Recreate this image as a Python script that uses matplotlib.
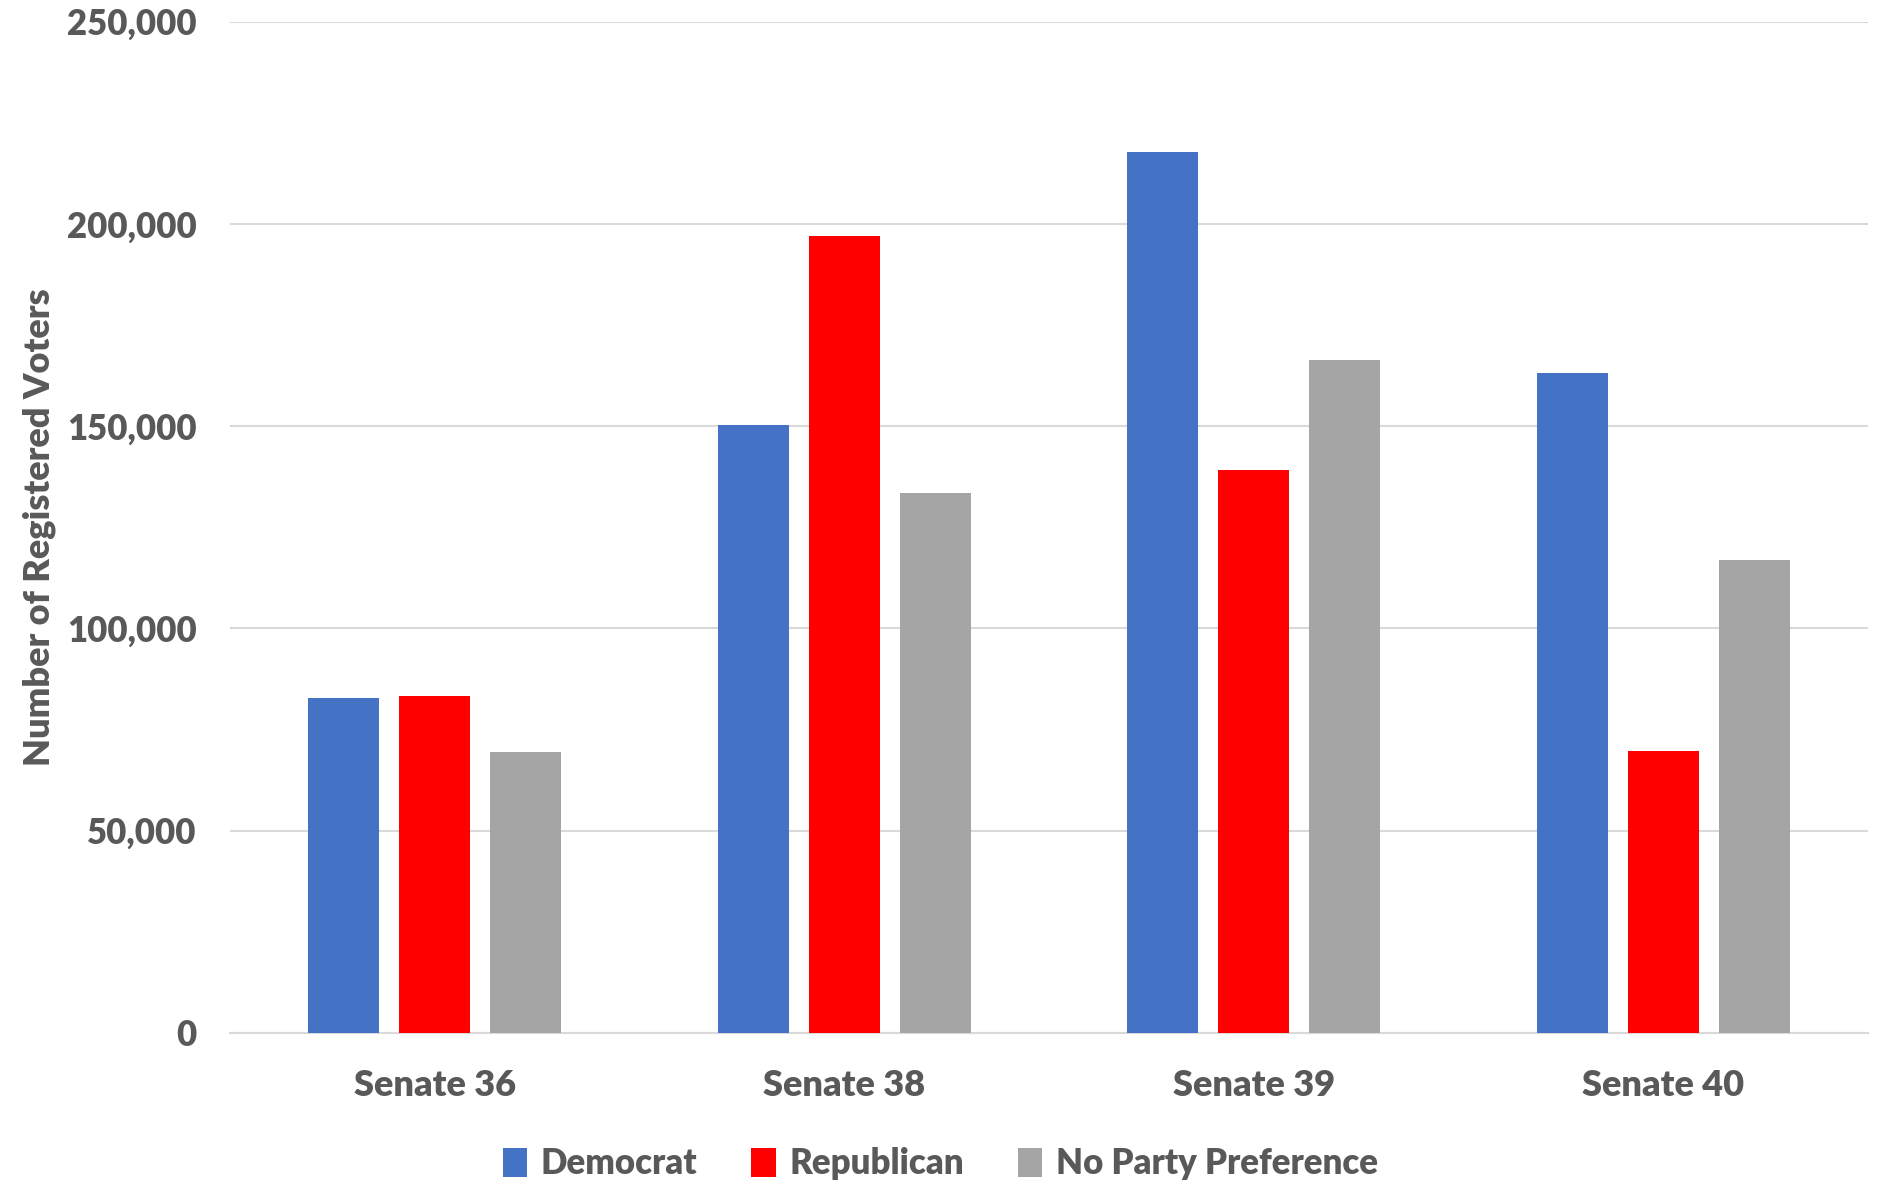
import matplotlib.pyplot as plt
import numpy as np
from matplotlib.ticker import FuncFormatter

districts = ["Senate 36", "Senate 38", "Senate 39", "Senate 40"]
parties = ["Democrat", "Republican", "No Party Preference"]
democrat = [82700, 150400, 217700, 163100]
republican = [83300, 196900, 139100, 69700]
no_party = [69400, 133500, 166400, 116800]
colors = ["#4472C4", "#FF0000", "#A5A5A5"]

txt = "#595959"
plt.rcParams['font.family'] = ['Lato', 'DejaVu Sans']
wt = 'heavy'

fig = plt.figure(figsize=(18.81, 11.85), dpi=100)
ax = fig.add_axes([230 / 1881, 1 - 1033 / 1185, (1868 - 230) / 1881, (1033 - 21.6) / 1185])

x = np.arange(len(districts))
w = 0.173
step = 0.222
for i, (vals, name) in enumerate(zip([democrat, republican, no_party], parties)):
    ax.bar(x + (i - 1) * step, vals, w, color=colors[i], label=name, zorder=3)

ax.set_xlim(-0.5, 3.5)
ax.set_ylim(0, 250000)
ax.set_yticks(np.arange(0, 250001, 50000))
ax.yaxis.set_major_formatter(FuncFormatter(lambda v, p: f"{int(v):,}"))
ax.grid(axis='y', color="#D9D9D9", lw=1.5, zorder=0)
for s in ["top", "right", "left"]:
    ax.spines[s].set_visible(False)
ax.spines["bottom"].set_color("#D9D9D9")
ax.spines["bottom"].set_linewidth(1.5)
ax.tick_params(axis='both', length=0, labelcolor=txt)
ax.tick_params(axis='y', pad=24, labelsize=25)
ax.tick_params(axis='x', pad=26, labelsize=26)
ax.set_xticks(x)
ax.set_xticklabels(districts)
for lab in ax.get_xticklabels() + ax.get_yticklabels():
    lab.set_fontweight(wt)
ax.set_ylabel("Number of Registered Voters", fontsize=26, color=txt, fontweight=wt, labelpad=8)

leg = fig.legend(loc="center", bbox_to_anchor=(0.5, 1 - 1164 / 1185), ncol=3, frameon=False,
                 prop={'size': 25, 'weight': wt}, handlelength=0.7, handleheight=0.9,
                 handletextpad=0.4, columnspacing=1.55)
for t in leg.get_texts():
    t.set_color(txt)

fig.savefig("out.png", dpi=100)
